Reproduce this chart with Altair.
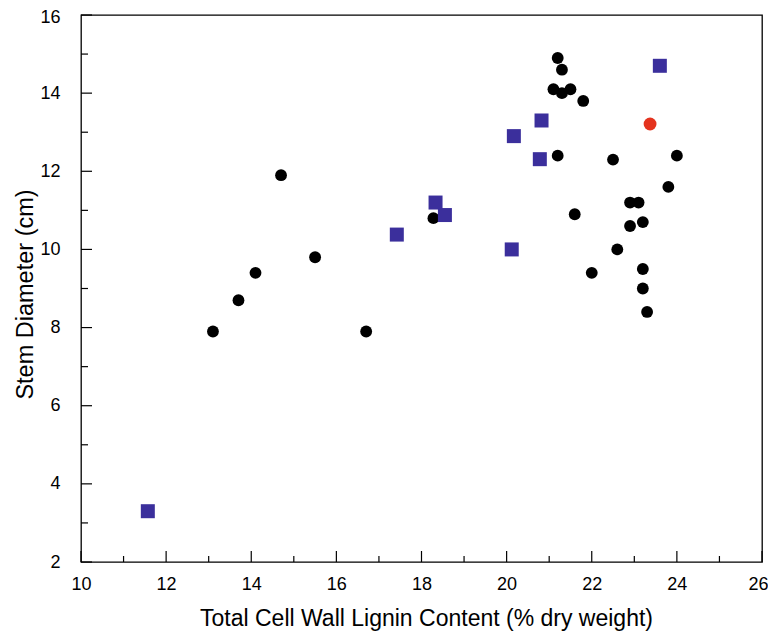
import altair as alt
import pandas as pd

# Black circles
black_x = [13.1, 13.7, 14.1, 14.7, 15.5, 16.7, 18.28, 21.2, 21.3, 21.1, 21.3, 21.5, 21.8,
           21.2, 22.5, 24.0, 23.8, 22.9, 23.1, 21.6, 22.9, 23.2, 22.6, 22.0, 23.2, 23.2, 23.3]
black_y = [7.9, 8.7, 9.4, 11.9, 9.8, 7.9, 10.8, 14.9, 14.6, 14.1, 14.0, 14.1, 13.8,
           12.4, 12.3, 12.4, 11.6, 11.2, 11.2, 10.9, 10.6, 10.7, 10.0, 9.4, 9.5, 9.0, 8.4]

# Blue squares
blue_x = [11.57, 17.42, 18.33, 18.55, 20.12, 20.17, 20.78, 20.82, 23.6]
blue_y = [3.3, 10.38, 11.2, 10.88, 10.0, 12.9, 12.31, 13.3, 14.7]

# Red circle
red_x = [23.37]
red_y = [13.21]

x_major = [10, 12, 14, 16, 18, 20, 22, 24, 26]
x_minor = [11, 13, 15, 17, 19, 21, 23, 25]
y_major = [2, 4, 6, 8, 10, 12, 14, 16]
y_minor = [3, 5, 7, 9, 11, 13, 15]

W, H = 681, 547
FONT = "Liberation Sans"

xs = alt.Scale(domain=[10, 26], nice=False, zero=False)
ys = alt.Scale(domain=[2, 16], nice=False, zero=False)

black_df = pd.DataFrame({"x": black_x, "y": black_y})
blue_df = pd.DataFrame({"x": blue_x, "y": blue_y})
red_df = pd.DataFrame({"x": red_x, "y": red_y})

xaxis = alt.Axis(
    title="Total Cell Wall Lignin Content (% dry weight)",
    values=x_major, format="d", grid=False, domain=False, ticks=False, tickSize=0,
    labelFont=FONT, labelFontSize=18, labelColor="black", labelPadding=13,
    labelFlush=False, labelOverlap=False,
    labelOffset=alt.condition("datum.value == 26", alt.value(-4), alt.value(0)),
    titleFont=FONT, titleFontSize=23, titleFontWeight="normal", titleColor="black",
    titleX=345, titleY=63, titleBaseline="alphabetic",
)
yaxis = alt.Axis(
    title="Stem Diameter (cm)",
    values=y_major, format="d", grid=False, domain=False, ticks=False, tickSize=0,
    labelFont=FONT, labelFontSize=18, labelColor="black", labelPadding=21,
    labelFlush=False, labelOverlap=False,
    labelOffset=alt.condition("datum.value == 16", alt.value(2), alt.value(0)),
    titleFont=FONT, titleFontSize=23.5, titleFontWeight="normal", titleColor="black",
    titleX=-49, titleY=279, titleBaseline="alphabetic", titleAngle=-90,
)

black = alt.Chart(black_df).mark_circle(color="black", opacity=1, size=140).encode(
    x=alt.X("x:Q", scale=xs, axis=xaxis),
    y=alt.Y("y:Q", scale=ys, axis=yaxis),
)
blue = alt.Chart(blue_df).mark_square(color="#3b2f9c", opacity=1, size=196).encode(
    x=alt.X("x:Q", scale=xs), y=alt.Y("y:Q", scale=ys)
)
red = alt.Chart(red_df).mark_circle(color="#e4331e", opacity=1, size=165).encode(
    x=alt.X("x:Q", scale=xs), y=alt.Y("y:Q", scale=ys)
)

tick_style = dict(color="black", strokeWidth=1.2)
xmaj = alt.Chart(pd.DataFrame({"v": x_major})).mark_rule(**tick_style).encode(
    x=alt.X("v:Q", scale=xs), y=alt.value(H), y2=alt.value(H - 11))
xmin = alt.Chart(pd.DataFrame({"v": x_minor})).mark_rule(**tick_style).encode(
    x=alt.X("v:Q", scale=xs), y=alt.value(H), y2=alt.value(H - 6))
ymaj = alt.Chart(pd.DataFrame({"v": y_major})).mark_rule(**tick_style).encode(
    y=alt.Y("v:Q", scale=ys), x=alt.value(0), x2=alt.value(11))
ymin = alt.Chart(pd.DataFrame({"v": y_minor})).mark_rule(**tick_style).encode(
    y=alt.Y("v:Q", scale=ys), x=alt.value(0), x2=alt.value(7))

chart = alt.layer(black, blue, red, xmaj, xmin, ymaj, ymin).properties(
    width=W, height=H,
    background="white",
    autosize=alt.AutoSizeParams(type="none"),
    padding={"left": 73, "top": 7, "right": 6, "bottom": 70},
).configure_view(stroke="black", strokeWidth=1.3)

chart.save("out.html", embed_options={"renderer": "svg", "actions": False})
